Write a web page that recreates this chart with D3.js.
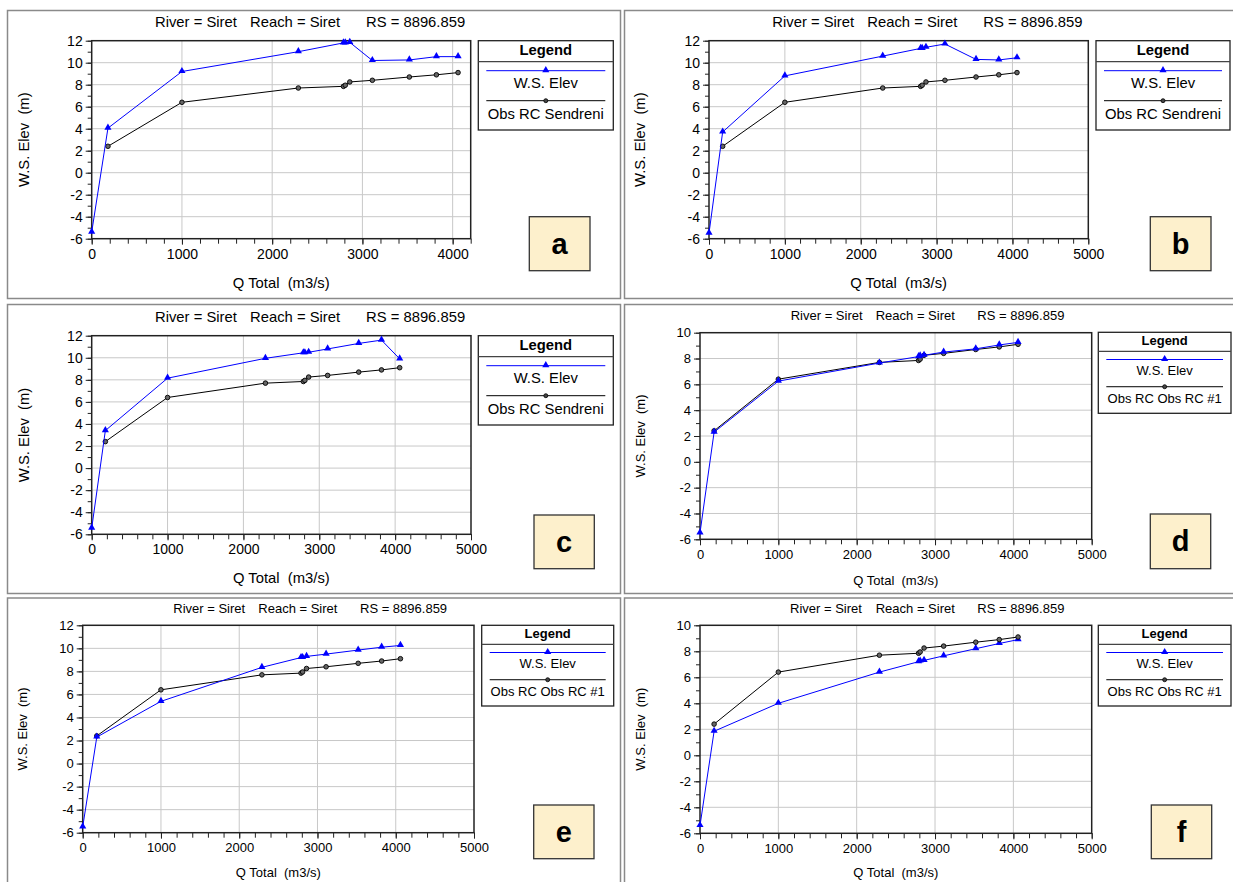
<!DOCTYPE html>
<html>
<head>
<meta charset="utf-8">
<script src="https://cdn.jsdelivr.net/npm/d3@7"></script>
<style>
  body { margin: 0; background: #fff; }
  text { font-family: "Liberation Sans", Arial, sans-serif; fill: #000; }
</style>
</head>
<body>
<svg id="chart" width="1233" height="882"></svg>
<script>
// discharge values (m3/s)
const qObs = [180, 1000, 2290, 2790, 2810, 2860, 3110, 3520, 3820, 4060];
const qSim = [0, 180, 1000, 2290, 2790, 2810, 2860, 3110, 3520, 3820, 4060];
// observed rating curve (same in every panel)
const obsRC = [2.4, 6.4, 7.7, 7.85, 7.95, 8.25, 8.4, 8.7, 8.9, 9.1];
// computed water surface elevations, one per panel
const wsA = [-5.4, 4.05, 9.2, 11.0, 11.8, 11.8, 11.85, 10.2, 10.25, 10.55, 10.55];
const wsB = [-5.5, 3.7, 8.8, 10.6, 11.3, 11.3, 11.4, 11.7, 10.3, 10.25, 10.45];
const wsC = [-5.45, 3.4, 8.15, 9.95, 10.45, 10.45, 10.5, 10.8, 11.3, 11.6, 9.9];
const wsD = [-5.5, 2.3, 6.25, 7.65, 8.15, 8.2, 8.25, 8.5, 8.75, 9.05, 9.25];
const wsE = [-5.5, 2.3, 5.4, 8.35, 9.2, 9.2, 9.3, 9.5, 9.85, 10.1, 10.25];
const wsF = [-5.4, 1.85, 4.0, 6.4, 7.2, 7.25, 7.3, 7.65, 8.2, 8.6, 8.9];

const panelLabels = ["a", "b", "c", "d", "e", "f"];
const obsNames = ["Obs RC Sendreni", "Obs RC Sendreni", "Obs RC Sendreni",
                  "Obs RC Obs RC #1", "Obs RC Obs RC #1", "Obs RC Obs RC #1"];
const wsSeries = [wsA, wsB, wsC, wsD, wsE, wsF];
const xMaxes = [4200, 5000, 5000, 5000, 5000, 5000];
const yMaxes = [12, 12, 12, 10, 12, 10];
const titleParts = ["River = Siret", "Reach = Siret", "RS = 8896.859"];

// layout: box = panel border, plot = [l, t, r, b], leg = legend [l, t, r, b], tag = label box
const layout = [
  {box: [7, 10, 620, 298], plot: [91.7, 40.7, 470.7, 238.7], title: [155, 27, 95, 211], f: 14.8, tf: 14,
   leg: [478.3, 40.7, 613.3, 130], s: 1, tag: [529.3, 216.7, 590, 270.7], ylx: 24, xlb: 49},
  {box: [624, 10, 1240, 298], plot: [709, 40.7, 1088.3, 238.7], title: [772.3, 27, 95, 211], f: 14.8, tf: 14,
   leg: [1096, 40.7, 1230, 130], s: 1, tag: [1150.3, 216.7, 1211, 270.7], ylx: 640, xlb: 49},
  {box: [7, 304, 620, 593], plot: [91.7, 335.7, 471, 534.3], title: [155, 322, 95, 211], f: 14.8, tf: 14,
   leg: [478.3, 335.7, 613.3, 425], s: 1, tag: [534, 515, 594.3, 568.7], ylx: 24, xlb: 49},
  {box: [624, 304, 1240, 593], plot: [700, 332.7, 1091.7, 539.3], title: [790.7, 320, 85, 186.6], f: 13, tf: 13,
   leg: [1098.3, 332.3, 1231, 413.3], s: 0.907, tag: [1150.3, 514, 1210.7, 568.7], ylx: 640, xlb: 46},
  {box: [7, 597.5, 620, 890], plot: [82.7, 625.3, 474, 832.7], title: [173.3, 612.7, 85, 186.7], f: 13, tf: 13,
   leg: [481.7, 625.3, 613.7, 706], s: 0.907, tag: [533.7, 805, 594, 858.7], ylx: 22, xlb: 44},
  {box: [624, 597.5, 1240, 890], plot: [700, 625.3, 1091.7, 833.3], title: [790, 612.7, 85.7, 187.3], f: 13, tf: 13,
   leg: [1098.3, 625.3, 1231, 706], s: 0.907, tag: [1151.3, 805, 1211.7, 858.7], ylx: 640, xlb: 44}
];

const svg = d3.select("#chart");
const blue = "#0000ff";
const tri = d3.symbol().type(d3.symbolTriangle).size(22);
const plain = d => String(d);   // hyphen minus, like the original

layout.forEach((p, i) => {
  const g = svg.append("g");
  const [pl, pt, pr, pb] = p.plot;

  g.append("rect")
    .attr("x", p.box[0] + 0.5).attr("y", p.box[1] + 0.5)
    .attr("width", p.box[2] - p.box[0]).attr("height", p.box[3] - p.box[1])
    .attr("fill", "none").attr("stroke", "#8a8a8a").attr("stroke-width", 1.5);

  const x = d3.scaleLinear().domain([0, xMaxes[i]]).range([pl, pr]);
  const y = d3.scaleLinear().domain([-6, yMaxes[i]]).range([pb, pt]);

  // title
  const tt = g.append("text").attr("y", p.title[1]).style("font-size", p.f + "px");
  titleParts.forEach((t, k) => {
    tt.append("tspan").attr("x", p.title[0] + [0, p.title[2], p.title[3]][k]).text(t);
  });

  // grid
  g.selectAll(".gx").data(d3.range(1000, xMaxes[i], 1000)).enter().append("line")
    .attr("x1", d => x(d)).attr("x2", d => x(d)).attr("y1", pt).attr("y2", pb)
    .attr("stroke", "#c8c8c8").attr("stroke-width", 1);
  g.selectAll(".gy").data(d3.range(-4, yMaxes[i], 2)).enter().append("line")
    .attr("x1", pl).attr("x2", pr).attr("y1", d => y(d)).attr("y2", d => y(d))
    .attr("stroke", "#c8c8c8").attr("stroke-width", 1);

  // axes
  const yMinor = g.append("g").attr("transform", `translate(${pl},0)`)
    .call(d3.axisLeft(y).tickValues(d3.range(-6, yMaxes[i] + 1, 1)).tickSize(4).tickFormat(""));
  const yMajor = g.append("g").attr("transform", `translate(${pl},0)`)
    .call(d3.axisLeft(y).tickValues(d3.range(-6, yMaxes[i] + 1, 2)).tickSize(6).tickPadding(3).tickFormat(plain));
  const xMinor = g.append("g").attr("transform", `translate(0,${pb})`)
    .call(d3.axisBottom(x).tickValues(d3.range(0, xMaxes[i] + 1, 200)).tickSize(5).tickFormat(""));
  const xMajor = g.append("g").attr("transform", `translate(0,${pb})`)
    .call(d3.axisBottom(x).tickValues(d3.range(0, xMaxes[i] + 1, 1000)).tickSize(6).tickPadding(4).tickFormat(plain));
  [yMinor, yMajor, xMinor, xMajor].forEach(a => {
    a.select(".domain").remove();
    a.selectAll("line").attr("stroke", "#222");
    a.selectAll("text").style("font-size", p.tf + "px").attr("fill", "#000")
      .style("font-family", '"Liberation Sans", Arial, sans-serif');
  });

  // frame
  g.append("rect").attr("x", pl).attr("y", pt).attr("width", pr - pl).attr("height", pb - pt)
    .attr("fill", "none").attr("stroke", "#222").attr("stroke-width", 1.5);

  // axis titles
  g.append("text").attr("x", (pl + pr) / 2).attr("y", pb + p.xlb)
    .attr("text-anchor", "middle").style("font-size", p.f + "px")
    .attr("xml:space", "preserve").text("Q Total  (m3/s)");
  g.append("text").attr("transform", `translate(${p.ylx + p.f * 0.36},${(pt + pb) / 2}) rotate(-90)`)
    .attr("text-anchor", "middle").style("font-size", p.f + "px")
    .attr("xml:space", "preserve").text("W.S. Elev  (m)");

  // series
  const line = d3.line().x(d => x(d[0])).y(d => y(d[1]));
  const obsPts = qObs.map((q, k) => [q, obsRC[k]]);
  const wsPts = qSim.map((q, k) => [q, wsSeries[i][k]]);

  const drawObs = () => {
    g.append("path").datum(obsPts).attr("d", line).attr("fill", "none")
      .attr("stroke", "#000").attr("stroke-width", 1);
    g.selectAll(".obs" + i).data(obsPts).enter().append("circle")
      .attr("cx", d => x(d[0])).attr("cy", d => y(d[1])).attr("r", 2.3)
      .attr("fill", "#666").attr("stroke", "#000").attr("stroke-width", 0.9);
  };
  const drawWs = () => {
    g.append("path").datum(wsPts).attr("d", line).attr("fill", "none")
      .attr("stroke", blue).attr("stroke-width", 1);
    g.selectAll(".ws" + i).data(wsPts).enter().append("path")
      .attr("d", tri).attr("fill", blue)
      .attr("transform", d => `translate(${x(d[0])},${y(d[1]) - 0.5})`);
  };
  if (i === 5) { drawWs(); drawObs(); } else { drawObs(); drawWs(); }

  // legend
  const [ll, lt, lr, lb] = p.leg;
  const s = p.s;
  const lc = (ll + lr) / 2;
  g.append("rect").attr("x", ll).attr("y", lt).attr("width", lr - ll).attr("height", lb - lt)
    .attr("fill", "#fff").attr("stroke", "#222").attr("stroke-width", 1.3);
  g.append("line").attr("x1", ll).attr("x2", lr).attr("y1", lt + 21 * s).attr("y2", lt + 21 * s)
    .attr("stroke", "#444").attr("stroke-width", 1.3);
  g.append("text").attr("x", lc).attr("y", lt + 14 * s).attr("text-anchor", "middle")
    .style("font-size", p.f + "px").style("font-weight", "bold").text("Legend");
  g.append("line").attr("x1", ll + 8).attr("x2", lr - 8).attr("y1", lt + 30 * s).attr("y2", lt + 30 * s)
    .attr("stroke", blue).attr("stroke-width", 1);
  g.append("path").attr("d", tri).attr("fill", blue)
    .attr("transform", `translate(${lc},${lt + 30 * s - 0.5})`);
  g.append("text").attr("x", lc).attr("y", lt + 47.6 * s).attr("text-anchor", "middle")
    .style("font-size", p.f + "px").text("W.S. Elev");
  g.append("line").attr("x1", ll + 8).attr("x2", lr - 8).attr("y1", lt + 60 * s).attr("y2", lt + 60 * s)
    .attr("stroke", "#000").attr("stroke-width", 1);
  g.append("circle").attr("cx", lc).attr("cy", lt + 60 * s).attr("r", 2)
    .attr("fill", "#444").attr("stroke", "#000").attr("stroke-width", 0.8);
  g.append("text").attr("x", lc).attr("y", lt + 78.3 * s).attr("text-anchor", "middle")
    .style("font-size", p.f + "px").text(obsNames[i]);

  // panel tag
  const [tl, tp, tr, tb] = p.tag;
  g.append("rect").attr("x", tl).attr("y", tp).attr("width", tr - tl).attr("height", tb - tp)
    .attr("fill", "#fdf0cc").attr("stroke", "#333").attr("stroke-width", 1.3);
  g.append("text").attr("x", (tl + tr) / 2).attr("y", (tp + tb) / 2 + 10)
    .attr("text-anchor", "middle").style("font-size", "29px").style("font-weight", "bold")
    .text(panelLabels[i]);
});
</script>
</body>
</html>
